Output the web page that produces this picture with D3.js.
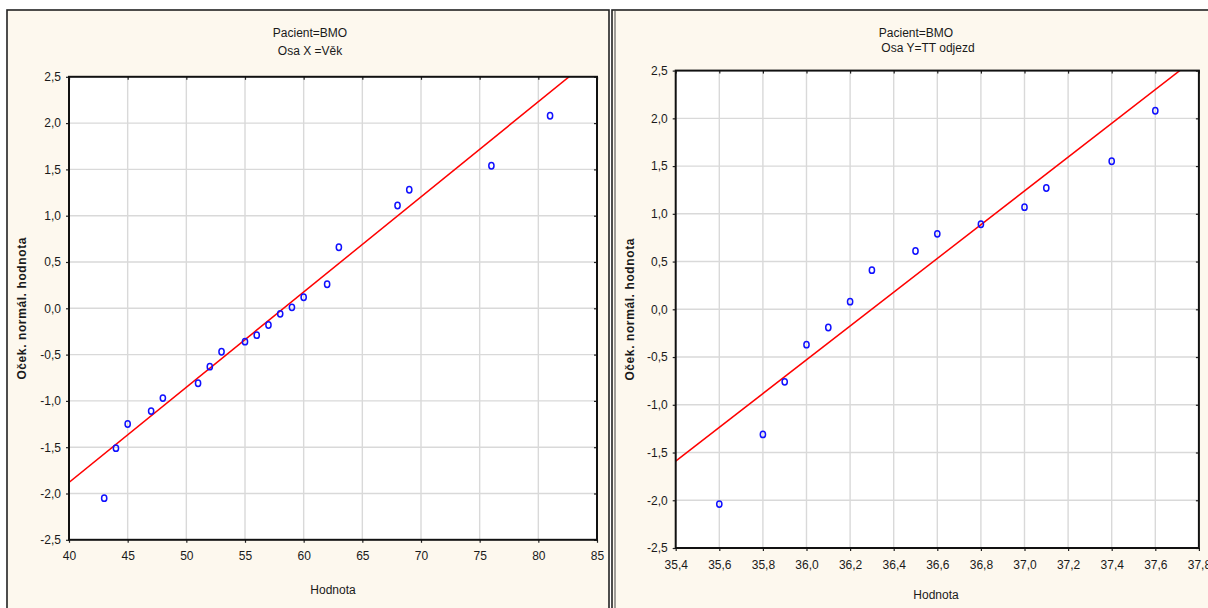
<!DOCTYPE html>
<html>
<head>
<meta charset="utf-8">
<script src="https://cdn.jsdelivr.net/npm/d3@7"></script>
<style>
  html, body { margin: 0; padding: 0; background: #ffffff; }
  svg { display: block; }
  text { font-family: "Liberation Sans", Arial, sans-serif; fill: #1a1a1a; }
</style>
</head>
<body>
<svg id="chart" width="1208" height="608"></svg>
<script>
// Normal probability plots, patient BMO
const ageValues  = [43, 44, 45, 47, 48, 51, 52, 53, 55, 56, 57, 58, 59, 60, 62, 63, 68, 69, 76, 81];
const ageScores  = [-2.05, -1.51, -1.25, -1.11, -0.97, -0.81, -0.63, -0.47, -0.36, -0.29, -0.18, -0.06, 0.01, 0.12, 0.26, 0.66, 1.11, 1.28, 1.54, 2.08];
const ageFit     = { mean: 58.29, sd: 9.73 };
const ageTicks   = [40, 45, 50, 55, 60, 65, 70, 75, 80, 85];

const tempValues = [35.6, 35.8, 35.9, 36.0, 36.1, 36.2, 36.3, 36.5, 36.6, 36.8, 37.0, 37.1, 37.4, 37.6];
const tempScores = [-2.04, -1.31, -0.76, -0.37, -0.19, 0.08, 0.41, 0.61, 0.79, 0.89, 1.07, 1.27, 1.55, 2.08];
const tempFit    = { mean: 36.299, sd: 0.5653 };
const tempTicks  = [35.4, 35.6, 35.8, 36.0, 36.2, 36.4, 36.6, 36.8, 37.0, 37.2, 37.4, 37.6, 37.8];

const scoreTicks = [-2.5, -2.0, -1.5, -1.0, -0.5, 0.0, 0.5, 1.0, 1.5, 2.0, 2.5];

const titleLines = [["Pacient=BMO", "Osa X =Věk"], ["Pacient=BMO", "Osa Y=TT odjezd"]];
const yTitle = "Oček. normál. hodnota";
const xTitle = "Hodnota";

const cz = d3.formatLocale({ decimal: ",", thousands: " ", grouping: [3], currency: ["", " Kč"], minus: "-" });
const fmt1 = cz.format(".1f");
const fmt0 = cz.format("d");

const svg = d3.select("#chart");

function drawPanel(cfg) {
  const g = svg.append("g");

  // panel frame
  g.append("rect")
    .attr("x", cfg.frame[0]).attr("y", cfg.frame[1])
    .attr("width", cfg.frame[2]).attr("height", cfg.frame[3])
    .attr("fill", "#fdf8ee").attr("stroke", "#222").attr("stroke-width", 1.6);
  if (cfg.doubleEdge) {
    g.append("line")
      .attr("x1", cfg.frame[0] + 3).attr("x2", cfg.frame[0] + 3)
      .attr("y1", cfg.frame[1]).attr("y2", cfg.frame[1] + cfg.frame[3])
      .attr("stroke", "#444").attr("stroke-width", 1);
  }

  const x = d3.scaleLinear().domain(cfg.xDomain).range([cfg.plot.x0, cfg.plot.x1]);
  const y = d3.scaleLinear().domain([-2.5, 2.5]).range([cfg.plot.y1, cfg.plot.y0]);

  const w = cfg.plot.x1 - cfg.plot.x0, h = cfg.plot.y1 - cfg.plot.y0;

  g.append("rect")
    .attr("x", cfg.plot.x0).attr("y", cfg.plot.y0)
    .attr("width", w).attr("height", h)
    .attr("fill", "#ffffff");

  // grid
  g.append("g").selectAll("line").data(cfg.xTicks.slice(1, -1)).join("line")
    .attr("x1", d => x(d)).attr("x2", d => x(d))
    .attr("y1", cfg.plot.y0).attr("y2", cfg.plot.y1)
    .attr("stroke", "#d9d9d9").attr("stroke-width", 1.4);
  g.append("g").selectAll("line").data(scoreTicks.slice(1, -1)).join("line")
    .attr("x1", cfg.plot.x0).attr("x2", cfg.plot.x1)
    .attr("y1", d => y(d)).attr("y2", d => y(d))
    .attr("stroke", "#d9d9d9").attr("stroke-width", 1.4);

  // axes
  const xAxis = d3.axisBottom(x).tickValues(cfg.xTicks).tickFormat(cfg.xFmt).tickSize(3).tickPadding(9);
  const yAxis = d3.axisLeft(y).tickValues(scoreTicks).tickFormat(fmt1).tickSize(3).tickPadding(5);
  const xTop = d3.axisTop(x).tickValues(cfg.xTicks).tickFormat("").tickSize(-3);
  const yRight = d3.axisRight(y).tickValues(scoreTicks).tickFormat("").tickSize(-3);

  const styleAxis = sel => {
    sel.select(".domain").remove();
    sel.selectAll("line").attr("stroke", "#222").attr("stroke-width", 1.2);
    sel.selectAll("text").attr("font-size", 12).attr("fill", "#1a1a1a")
      .attr("font-family", "'Liberation Sans', Arial, sans-serif");
  };
  g.append("g").attr("transform", `translate(0,${cfg.plot.y1})`).call(xAxis).call(styleAxis);
  g.append("g").attr("transform", `translate(${cfg.plot.x0},0)`).call(yAxis).call(styleAxis);
  g.append("g").attr("transform", `translate(0,${cfg.plot.y0})`).call(xTop).call(styleAxis);
  g.append("g").attr("transform", `translate(${cfg.plot.x1},0)`).call(yRight).call(styleAxis);

  // clip for fitted line
  const clipId = "clip" + cfg.id;
  g.append("clipPath").attr("id", clipId).append("rect")
    .attr("x", cfg.plot.x0).attr("y", cfg.plot.y0).attr("width", w).attr("height", h);

  const fitLine = cfg.xDomain.map(v => [v, (v - cfg.fit.mean) / cfg.fit.sd]);
  g.append("path")
    .attr("clip-path", `url(#${clipId})`)
    .attr("d", d3.line().x(d => x(d[0])).y(d => y(d[1]))(fitLine))
    .attr("fill", "none").attr("stroke", "#ff0000").attr("stroke-width", 1.5);

  // observations
  g.append("g").selectAll("ellipse").data(cfg.values.map((v, i) => [v, cfg.scores[i]])).join("ellipse")
    .attr("cx", d => x(d[0])).attr("cy", d => y(d[1]))
    .attr("rx", 2.6).attr("ry", 3.2)
    .attr("fill", "none").attr("stroke", "#1010ff").attr("stroke-width", 1.5);

  // plot border
  g.append("rect")
    .attr("x", cfg.plot.x0).attr("y", cfg.plot.y0)
    .attr("width", w).attr("height", h)
    .attr("fill", "none").attr("stroke", "#111").attr("stroke-width", 2);

  // titles
  g.append("text").attr("x", cfg.titleX[0]).attr("y", 37).attr("text-anchor", "middle")
    .attr("font-size", 12).text(cfg.title[0]);
  g.append("text").attr("x", cfg.titleX[1]).attr("y", cfg.title2Y).attr("text-anchor", "middle")
    .attr("font-size", 12).text(cfg.title[1]);

  g.append("text").attr("x", cfg.xTitleX).attr("y", cfg.xTitleY).attr("text-anchor", "middle")
    .attr("font-size", 12).text(xTitle);

  g.append("text")
    .attr("transform", `translate(${cfg.yTitleX},${(cfg.plot.y0 + cfg.plot.y1) / 2}) rotate(-90)`)
    .attr("text-anchor", "middle").attr("font-size", 12).attr("font-weight", "bold")
    .attr("letter-spacing", 0.6).attr("fill", "#333")
    .text(yTitle);
}

drawPanel({
  id: "age",
  frame: [7, 10, 602, 610],
  plot: { x0: 69, x1: 597, y0: 76.8, y1: 539.8 },
  xDomain: [40, 85], xTicks: ageTicks, xFmt: fmt0,
  values: ageValues, scores: ageScores, fit: ageFit,
  title: titleLines[0], titleX: [310, 310], title2Y: 55,
  xTitleX: 333, xTitleY: 594, yTitleX: 26
});

drawPanel({
  id: "temp",
  frame: [612, 10, 610, 610], doubleEdge: true,
  plot: { x0: 675.7, x1: 1198.9, y0: 70.6, y1: 548 },
  xDomain: [35.4, 37.8], xTicks: tempTicks, xFmt: fmt1,
  values: tempValues, scores: tempScores, fit: tempFit,
  title: titleLines[1], titleX: [916, 928], title2Y: 52,
  xTitleX: 936, xTitleY: 599, yTitleX: 634
});
</script>
</body>
</html>
